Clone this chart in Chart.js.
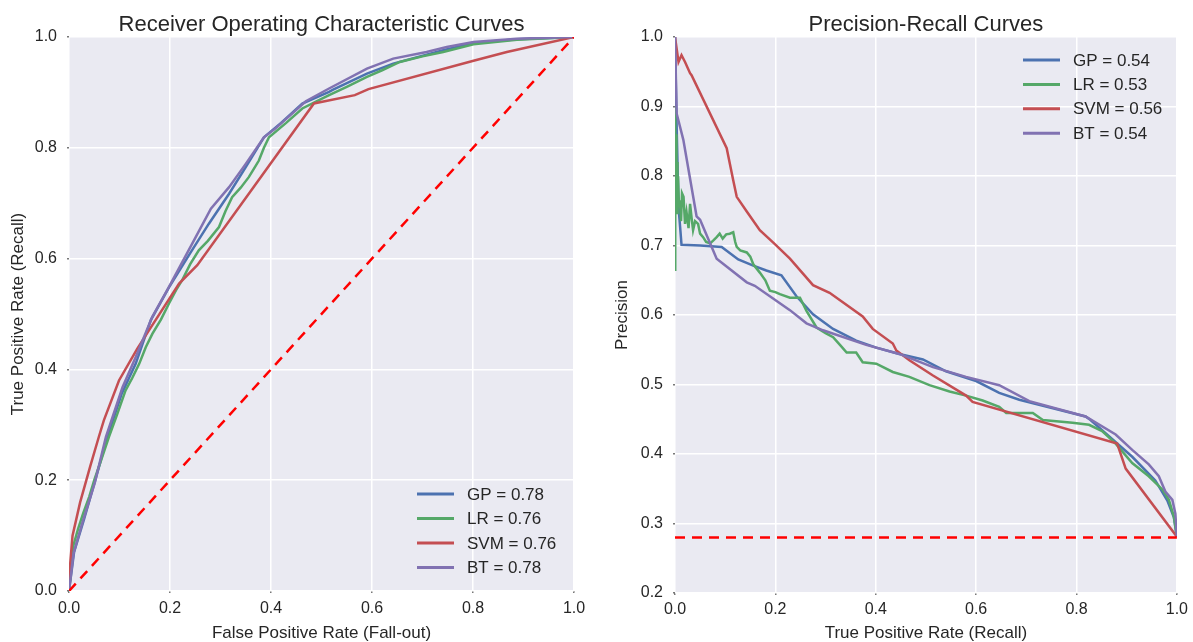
<!DOCTYPE html>
<html lang="en">
<head>
<meta charset="UTF-8">
<title>ROC and Precision-Recall Curves</title>
<script src="https://cdn.jsdelivr.net/npm/chart.js"></script>
<style>
  body { margin: 0; background: #fff; }
  .box { position: absolute; top: 0; height: 642px; }
</style>
</head>
<body>
<div class="box" style="left:0; width:600px;"><canvas id="rocChart"></canvas></div>
<div class="box" style="left:600px; width:593px;"><canvas id="prChart"></canvas></div>
<script>
// ROC curves (false positive rate / true positive rate)
var gpFpr = [0, 0.010, 0.030, 0.052, 0.076, 0.104, 0.132, 0.162, 0.198, 0.240, 0.277, 0.317, 0.350, 0.386, 0.420, 0.462, 0.515, 0.523, 0.590, 0.642, 0.741, 0.801, 0.887, 1.0];
var gpTpr = [0, 0.070, 0.130, 0.200, 0.278, 0.355, 0.410, 0.489, 0.548, 0.610, 0.663, 0.717, 0.765, 0.819, 0.845, 0.880, 0.901, 0.905, 0.934, 0.952, 0.976, 0.989, 0.996, 1.0];

var lrFpr = [0, 0.008, 0.018, 0.028, 0.040, 0.050, 0.062, 0.079, 0.095, 0.112, 0.125, 0.139, 0.152, 0.165, 0.182, 0.198, 0.212, 0.224, 0.240, 0.257, 0.275, 0.297, 0.310, 0.323, 0.340, 0.356, 0.366, 0.376, 0.386, 0.396, 0.430, 0.462, 0.490, 0.515, 0.550, 0.590, 0.620, 0.655, 0.700, 0.741, 0.801, 0.887, 1.0];
var lrTpr = [0, 0.080, 0.112, 0.140, 0.170, 0.200, 0.232, 0.278, 0.318, 0.362, 0.384, 0.410, 0.440, 0.464, 0.490, 0.519, 0.543, 0.561, 0.590, 0.615, 0.632, 0.657, 0.686, 0.711, 0.728, 0.747, 0.762, 0.777, 0.800, 0.819, 0.845, 0.871, 0.884, 0.895, 0.910, 0.928, 0.940, 0.955, 0.965, 0.973, 0.987, 0.995, 1.0];

var svmFpr = [0, 0.002, 0.007, 0.022, 0.042, 0.059, 0.069, 0.099, 0.135, 0.158, 0.218, 0.254, 0.485, 0.566, 0.593, 0.801, 0.867, 1.0];
var svmTpr = [0, 0.045, 0.100, 0.160, 0.225, 0.278, 0.308, 0.380, 0.437, 0.470, 0.555, 0.588, 0.880, 0.895, 0.906, 0.957, 0.973, 1.0];

var btFpr = [0, 0.009, 0.028, 0.051, 0.073, 0.106, 0.132, 0.165, 0.198, 0.244, 0.281, 0.317, 0.350, 0.386, 0.409, 0.469, 0.515, 0.590, 0.642, 0.708, 0.748, 0.801, 0.887, 1.0];
var btTpr = [0, 0.068, 0.128, 0.195, 0.278, 0.368, 0.422, 0.495, 0.549, 0.627, 0.690, 0.729, 0.771, 0.819, 0.835, 0.884, 0.907, 0.943, 0.961, 0.973, 0.982, 0.991, 0.997, 1.0];

var chanceFpr = [0, 1];
var chanceTpr = [0, 1];

// Precision-recall curves (recall / precision)
var gpRec = [0, 0.003, 0.007, 0.013, 0.050, 0.093, 0.126, 0.156, 0.182, 0.212, 0.242, 0.275, 0.315, 0.361, 0.401, 0.447, 0.494, 0.540, 0.600, 0.646, 0.686, 0.818, 0.828, 0.911, 0.957, 0.981, 0.994, 1.0];
var gpPrec = [1.0, 0.880, 0.756, 0.701, 0.700, 0.698, 0.680, 0.671, 0.664, 0.657, 0.627, 0.601, 0.580, 0.563, 0.553, 0.544, 0.536, 0.519, 0.505, 0.488, 0.478, 0.454, 0.449, 0.396, 0.362, 0.333, 0.309, 0.281];

var lrRec = [0, 0, 0.001, 0.002, 0.003, 0.004, 0.005, 0.006, 0.008, 0.010, 0.012, 0.014, 0.017, 0.020, 0.023, 0.027, 0.030, 0.033, 0.036, 0.040, 0.046, 0.050, 0.056, 0.062, 0.070, 0.076, 0.083, 0.089, 0.095, 0.102, 0.109, 0.116, 0.120, 0.123, 0.130, 0.143, 0.150, 0.156, 0.169, 0.180, 0.189, 0.200, 0.209, 0.229, 0.249, 0.262, 0.282, 0.300, 0.315, 0.330, 0.342, 0.361, 0.374, 0.401, 0.434, 0.467, 0.507, 0.547, 0.580, 0.613, 0.646, 0.660, 0.713, 0.733, 0.792, 0.825, 0.851, 0.878, 0.911, 0.944, 0.971, 0.984, 0.994, 1.0];
var lrPrec = [0.665, 0.900, 0.760, 0.860, 0.790, 0.820, 0.745, 0.800, 0.755, 0.765, 0.735, 0.775, 0.770, 0.731, 0.748, 0.725, 0.760, 0.740, 0.722, 0.735, 0.731, 0.717, 0.712, 0.705, 0.703, 0.707, 0.712, 0.717, 0.710, 0.716, 0.717, 0.719, 0.705, 0.698, 0.693, 0.690, 0.684, 0.673, 0.661, 0.650, 0.635, 0.633, 0.630, 0.625, 0.625, 0.606, 0.582, 0.574, 0.568, 0.556, 0.546, 0.546, 0.532, 0.530, 0.518, 0.511, 0.499, 0.490, 0.484, 0.477, 0.468, 0.459, 0.459, 0.449, 0.445, 0.442, 0.433, 0.415, 0.387, 0.368, 0.349, 0.334, 0.310, 0.281];

var svmRec = [0, 0.007, 0.013, 0.020, 0.030, 0.033, 0.103, 0.116, 0.123, 0.143, 0.169, 0.199, 0.229, 0.275, 0.308, 0.374, 0.394, 0.434, 0.441, 0.467, 0.514, 0.580, 0.593, 0.881, 0.898, 1.0];
var svmPrec = [1.0, 0.964, 0.974, 0.964, 0.948, 0.945, 0.840, 0.794, 0.770, 0.749, 0.722, 0.702, 0.681, 0.643, 0.632, 0.598, 0.580, 0.559, 0.549, 0.535, 0.513, 0.484, 0.475, 0.415, 0.379, 0.281];

var btRec = [0, 0.0033, 0.0166, 0.043, 0.050, 0.083, 0.143, 0.159, 0.229, 0.262, 0.295, 0.381, 0.447, 0.514, 0.580, 0.646, 0.706, 0.818, 0.878, 0.911, 0.944, 0.964, 0.977, 0.991, 0.997, 1.0];
var btPrec = [1.0, 0.890, 0.852, 0.742, 0.737, 0.681, 0.647, 0.642, 0.607, 0.588, 0.578, 0.557, 0.544, 0.525, 0.511, 0.499, 0.476, 0.454, 0.428, 0.406, 0.385, 0.368, 0.346, 0.334, 0.314, 0.281];

var chanceRec = [0, 1];
var chancePrec = [0.28, 0.28];

// legend texts (AUC / average precision)
var rocLabels = ['GP = 0.78', 'LR = 0.76', 'SVM = 0.76', 'BT = 0.78'];
var prLabels = ['GP = 0.54', 'LR = 0.53', 'SVM = 0.56', 'BT = 0.54'];

var FONT = '"Liberation Sans", Arial, Helvetica, sans-serif';
var TEXT = '#262626';
var colors = ['#4C72B0', '#55A868', '#C44E52', '#8172B2'];

Chart.defaults.font.family = FONT;
Chart.defaults.color = TEXT;

function pts(xs, ys) {
    return xs.map(function (x, i) { return {x: x, y: ys[i]}; });
}

// grey plotting area, like seaborn darkgrid
var areaBg = {
    id: 'areaBg',
    beforeDraw: function (chart) {
        var a = chart.chartArea, ctx = chart.ctx;
        ctx.save();
        ctx.fillStyle = '#EAEAF2';
        ctx.fillRect(a.left, a.top, a.right - a.left, a.bottom - a.top);
        ctx.restore();
    }
};

// title centred over the plotting area
var areaTitle = {
    id: 'areaTitle',
    afterDraw: function (chart, args, opts) {
        var a = chart.chartArea, ctx = chart.ctx;
        ctx.save();
        ctx.font = '22px ' + FONT;
        ctx.fillStyle = TEXT;
        ctx.textAlign = 'center';
        ctx.textBaseline = 'alphabetic';
        ctx.fillText(opts.text, (a.left + a.right) / 2, opts.y);
        ctx.restore();
    }
};

// frameless legend drawn inside the plot
var innerLegend = {
    id: 'innerLegend',
    afterDatasetsDraw: function (chart, args, opts) {
        var ctx = chart.ctx;
        var items = chart.data.datasets.filter(function (d) { return d.label; });
        ctx.save();
        ctx.font = '17px ' + FONT;
        ctx.textAlign = 'left';
        ctx.textBaseline = 'middle';
        items.forEach(function (d, i) {
            var y = opts.top + i * opts.step;
            ctx.strokeStyle = d.borderColor;
            ctx.lineWidth = 3;
            ctx.beginPath();
            ctx.moveTo(opts.left, y);
            ctx.lineTo(opts.left + 37, y);
            ctx.stroke();
            ctx.fillStyle = TEXT;
            ctx.fillText(d.label, opts.left + 50, y + 1);
        });
        ctx.restore();
    }
};

function series(label, data, color, order) {
    return {
        label: label, data: data, borderColor: color, backgroundColor: color,
        borderWidth: 2.5, showLine: true, pointRadius: 0, tension: 0, order: order
    };
}

function chance(data) {
    return {
        label: '', data: data, borderColor: '#FF0000', borderWidth: 2.5,
        borderDash: [10, 7], showLine: true, pointRadius: 0, order: 1
    };
}

function makeOptions(o) {
    return {
        responsive: true,
        maintainAspectRatio: false,
        animation: false,
        events: [],
        layout: {padding: {top: 37, right: o.padRight, bottom: 0, left: 0}},
        plugins: {
            legend: {display: false},
            tooltip: {enabled: false},
            areaTitle: {text: o.title, y: 31},
            innerLegend: o.legend
        },
        scales: {
            x: {
                type: 'linear', min: 0, max: 1,
                afterFit: function (s) { s.height = o.xHeight; },
                ticks: {stepSize: 0.2, padding: o.xTickPad, maxRotation: 0, color: TEXT,
                        font: {size: 16}, callback: function (v) { return v.toFixed(1); }},
                grid: {color: '#FFFFFF', lineWidth: 1.5, drawTicks: true, tickLength: 2,
                       tickColor: '#777', tickWidth: 1.5},
                border: {display: false},
                title: {display: true, text: o.xTitle, color: TEXT, font: {size: 17},
                        padding: {top: 0, bottom: -2}}
            },
            y: {
                type: 'linear', min: o.yMin, max: 1,
                afterFit: function (s) { s.width = o.yWidth; },
                ticks: {stepSize: o.yStep, padding: 10, color: TEXT, font: {size: 16},
                        callback: function (v) { return v.toFixed(1); }},
                grid: {color: '#FFFFFF', lineWidth: 1.5, drawTicks: true, tickLength: 2,
                       tickColor: '#777', tickWidth: 1.5},
                border: {display: false},
                title: {display: true, text: o.yTitle, color: TEXT, font: {size: 17},
                        padding: {top: o.yTitlePad, bottom: 0}}
            }
        }
    };
}

new Chart(document.getElementById('rocChart'), {
    type: 'scatter',
    data: {
        datasets: [
            series(rocLabels[0], pts(gpFpr, gpTpr), colors[0], 5),
            series(rocLabels[1], pts(lrFpr, lrTpr), colors[1], 4),
            series(rocLabels[2], pts(svmFpr, svmTpr), colors[2], 3),
            series(rocLabels[3], pts(btFpr, btTpr), colors[3], 2),
            chance(pts(chanceFpr, chanceTpr))
        ]
    },
    options: makeOptions({
        title: 'Receiver Operating Characteristic Curves',
        xTitle: 'False Positive Rate (Fall-out)',
        yTitle: 'True Positive Rate (Recall)',
        padRight: 26, xHeight: 51, yWidth: 69, xTickPad: 6, yTitlePad: 8,
        yMin: 0, yStep: 0.2,
        legend: {left: 417, top: 494, step: 24.5}
    }),
    plugins: [areaBg, areaTitle, innerLegend]
});

new Chart(document.getElementById('prChart'), {
    type: 'scatter',
    data: {
        datasets: [
            series(prLabels[0], pts(gpRec, gpPrec), colors[0], 5),
            series(prLabels[1], pts(lrRec, lrPrec), colors[1], 4),
            series(prLabels[2], pts(svmRec, svmPrec), colors[2], 3),
            series(prLabels[3], pts(btRec, btPrec), colors[3], 2),
            chance(pts(chanceRec, chancePrec))
        ]
    },
    options: makeOptions({
        title: 'Precision-Recall Curves',
        xTitle: 'True Positive Rate (Recall)',
        yTitle: 'Precision',
        padRight: 15, xHeight: 49, yWidth: 75, xTickPad: 5, yTitlePad: 12,
        yMin: 0.2, yStep: 0.1,
        legend: {left: 423, top: 60, step: 24.4}
    }),
    plugins: [areaBg, areaTitle, innerLegend]
});
</script>
</body>
</html>
